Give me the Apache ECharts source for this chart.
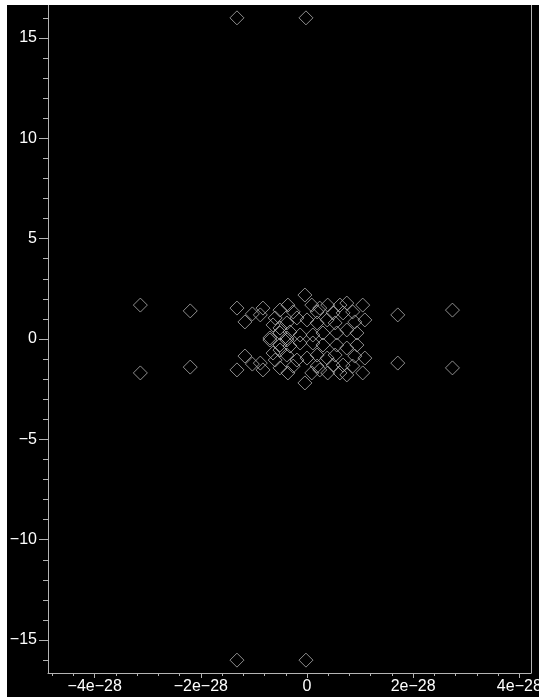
<!DOCTYPE html>
<html>
<head>
<meta charset="utf-8">
<script src="https://cdn.jsdelivr.net/npm/echarts@6/dist/echarts.min.js"></script>
<style>
html,body{margin:0;padding:0;background:#fff;width:539px;height:697px;overflow:hidden;}
#c{position:absolute;left:7px;top:5px;width:532px;height:692px;}
</style>
</head>
<body>
<div id="c"></div>
<script>
// Upper-half points (x, y); the plot shows conjugate pairs mirrored about y = 0
const upperX = [-3.14e-28,-2.20e-28,-1.32e-28,-0.83e-28,-1.03e-28,-1.17e-28,-0.88e-28,-0.51e-28,-0.36e-28,-0.04e-28,
  0.09e-28,0.19e-28,0.24e-28,0.39e-28,0.62e-28,0.75e-28,1.05e-28,1.09e-28,0.86e-28,0.68e-28,
  0.49e-28,0.38e-28,0.19e-28,0.0,-0.19e-28,-0.38e-28,-0.51e-28,-0.64e-28,0.75e-28,0.94e-28,
  0.56e-28,0.30e-28,0.11e-28,-0.13e-28,-0.32e-28,-0.51e-28,-0.38e-28,1.71e-28,2.74e-28,-1.32e-28,
  -0.02e-28,-0.60e-28,-0.26e-28,0.90e-28,0.53e-28,-0.70e-28];
const upperY = [1.69,1.40,1.54,1.54,1.25,0.85,1.20,1.44,1.69,2.19,
  1.69,1.35,1.54,1.69,1.69,1.79,1.69,0.95,1.35,1.30,
  1.30,0.95,0.80,0.95,1.05,0.80,0.55,0.70,0.45,0.30,
  0.30,0.30,0.20,0.20,0.35,0.30,0.05,1.20,1.44,16.0,
  16.0,1.05,1.35,0.85,0.80,0.05];
const yTickLabels = [-15,-10,-5,0,5,10,15];
const yMinorTicks = [-16,-15,-14,-13,-12,-11,-10,-9,-8,-7,-6,-5,-4,-3,-2,-1,0,1,2,3,4,5,6,7,8,9,10,11,12,13,14,15,16];
const xTickLabels = [-4e-28,-2e-28,0,2e-28,4e-28];
const xMinorTicks = [-4.8e-28,-4.4e-28,-4.0e-28,-3.6e-28,-3.2e-28,-2.8e-28,-2.4e-28,-2.0e-28,-1.6e-28,-1.2e-28,-0.8e-28,-0.4e-28,0,
  0.4e-28,0.8e-28,1.2e-28,1.6e-28,2.0e-28,2.4e-28,2.8e-28,3.2e-28,3.6e-28,4.0e-28];

const points = [];
for (let i = 0; i < upperX.length; i++) {
  points.push([upperX[i], upperY[i]]);
  points.push([upperX[i], -upperY[i]]);
}

const XMIN = -4.88e-28, XMAX = 4.22e-28, YMIN = -16.64, YMAX = 16.64;
const axisCol = '#b4b4b4';
const fmtX = v => {
  if (Math.abs(v) < 1e-40) return '0';
  const m = Math.round(v / 1e-28);
  return (m < 0 ? '\u2212' + (-m) : '' + m) + 'e\u221228';
};
const fmtY = v => (v < 0 ? '\u2212' + (-v) : '' + v);
const lbl = {color:'#fff', fontSize:16, fontFamily:'Liberation Sans, Arial, sans-serif'};

const chart = echarts.init(document.getElementById('c'));
chart.setOption({
  backgroundColor:'#000',
  animation:false,
  grid:{left:41, right:8, top:0, bottom:24, containLabel:false, outerBoundsMode:'none'},
  xAxis:[
    {type:'value', min:XMIN, max:XMAX, position:'bottom',
     axisLine:{show:true, onZero:false, lineStyle:{color:axisCol}},
     axisTick:{show:true, length:5, customValues:xTickLabels, lineStyle:{color:axisCol}},
     axisLabel:Object.assign({customValues:xTickLabels, formatter:fmtX, margin:6, showMinLabel:true, showMaxLabel:true}, lbl),
     splitLine:{show:false}},
    {type:'value', min:XMIN, max:XMAX, position:'bottom',
     axisLine:{show:false, onZero:false},
     axisTick:{show:true, length:3, customValues:xMinorTicks, lineStyle:{color:axisCol}},
     axisLabel:{show:false}, splitLine:{show:false}}
  ],
  yAxis:[
    {type:'value', min:YMIN, max:YMAX, position:'left',
     axisLine:{show:true, onZero:false, lineStyle:{color:axisCol}},
     axisTick:{show:true, length:9, customValues:yTickLabels, lineStyle:{color:axisCol}},
     axisLabel:Object.assign({customValues:yTickLabels, formatter:fmtY, margin:11}, lbl),
     splitLine:{show:false}},
    {type:'value', min:YMIN, max:YMAX, position:'left',
     axisLine:{show:false, onZero:false},
     axisTick:{show:true, length:5, customValues:yMinorTicks, lineStyle:{color:axisCol}},
     axisLabel:{show:false}, splitLine:{show:false}},
    {type:'value', min:YMIN, max:YMAX, position:'right',
     axisLine:{show:true, onZero:false, lineStyle:{color:axisCol}},
     axisTick:{show:false}, axisLabel:{show:false}, splitLine:{show:false}}
  ],
  series:[{
    type:'scatter', xAxisIndex:0, yAxisIndex:0,
    data:points, symbol:'diamond', symbolSize:14,
    itemStyle:{color:'rgba(0,0,0,0)', borderColor:'#b0b0b0', borderWidth:1},
    emphasis:{disabled:true}
  }]
});
</script>
</body>
</html>
